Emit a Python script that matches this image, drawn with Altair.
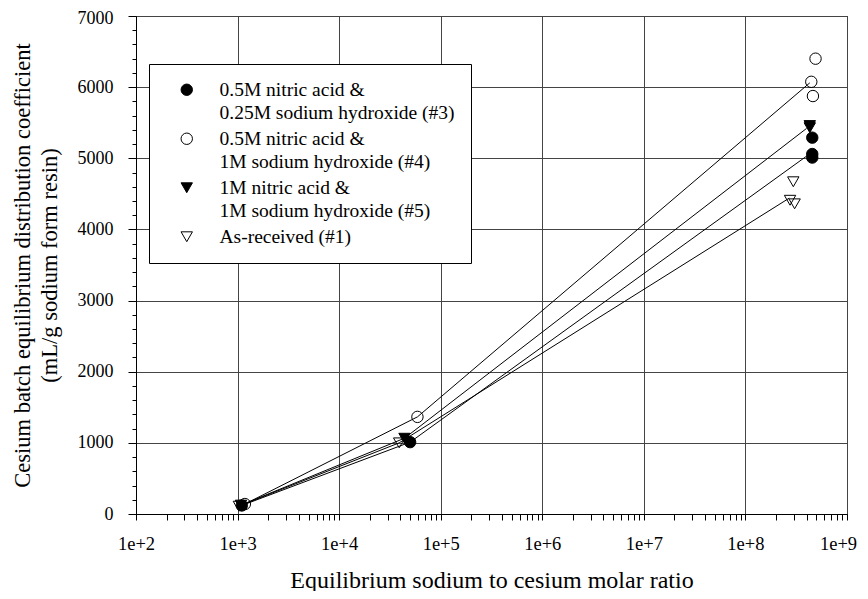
import altair as alt
import pandas as pd

FONT = "Liberation Serif, Times New Roman, DejaVu Serif, serif"

# Series (legend labels, '|' = line break)
SERIES = [
    "0.5M nitric acid &|0.25M sodium hydroxide (#3)",
    "0.5M nitric acid &|1M sodium hydroxide (#4)",
    "1M nitric acid &|1M sodium hydroxide (#5)",
    "As-received (#1)",
]
SHAPES = ["circle", "circle", "triangle-down", "triangle-down"]
FILLS = ["black", "transparent", "black", "transparent"]
STROKES = ["black", "black", "black", "black"]
SIZES = [130, 130, 150, 150]

# measured points (x = Na/Cs molar ratio, y = Kd)
s3_x = [1.1e3, 5.0e4, 4.55e8, 4.55e8, 4.55e8]
s3_y = [120, 1010, 5290, 5060, 5010]
s4_x = [1.18e3, 5.9e4, 4.9e8, 4.45e8, 4.62e8]
s4_y = [140, 1365, 6400, 6075, 5875]
s5_x = [1.08e3, 4.4e4, 4.3e8, 4.3e8]
s5_y = [125, 1065, 5460, 5430]
s1_x = [1.03e3, 3.9e4, 2.96e8, 2.75e8, 3.05e8]
s1_y = [110, 1000, 4670, 4410, 4360]

# connecting lines
l3_x = [1.1e3, 5.0e4, 4.0e8]
l3_y = [120, 1010, 5030]
l4_x = [1.18e3, 5.9e4, 4.3e8]
l4_y = [140, 1365, 6060]
l5_x = [1.08e3, 4.4e4, 4.0e8]
l5_y = [125, 1065, 5420]
l1_x = [1.03e3, 3.9e4, 2.7e8]
l1_y = [110, 1000, 4440]

# axis tick positions
x_ticks = [m * 10 ** e for e in range(2, 9) for m in range(1, 10)] + [1e9]
y_ticks = list(range(0, 7001, 200))

pts = pd.concat([
    pd.DataFrame({"x": xs, "y": ys, "series": s})
    for xs, ys, s in [(s3_x, s3_y, SERIES[0]), (s4_x, s4_y, SERIES[1]),
                      (s5_x, s5_y, SERIES[2]), (s1_x, s1_y, SERIES[3])]
])
lns = pd.concat([
    pd.DataFrame({"x": xs, "y": ys, "series": s})
    for xs, ys, s in [(l3_x, l3_y, SERIES[0]), (l4_x, l4_y, SERIES[1]),
                      (l5_x, l5_y, SERIES[2]), (l1_x, l1_y, SERIES[3])]
])

is_dec = "abs(log(datum.value)/LN10 - round(log(datum.value)/LN10)) < 1e-6"

x_enc = alt.X(
    "x:Q",
    scale=alt.Scale(type="log", domain=[1e2, 1e9], nice=False),
    axis=alt.Axis(
        values=x_ticks,
        labelExpr=f"({is_dec}) ? '1e+' + round(log(datum.value)/LN10) : ''",
        labelOverlap=False, labelFlush=False, labelBound=False,
        labelFontSize=18.5, labelPadding=14, tickSize=6,
        labelOffset={"condition": {"test": "datum.value > 5e8", "value": -9}, "value": 0},
        gridOpacity={"condition": {"test": is_dec, "value": 1}, "value": 0},
        titleFontSize=24, titleY=54, titleBaseline="top",
    ),
    title="Equilibrium sodium to cesium molar ratio",
)
y_enc = alt.Y(
    "y:Q",
    scale=alt.Scale(domain=[0, 7000], nice=False),
    axis=alt.Axis(
        values=y_ticks,
        labelExpr="datum.value % 1000 === 0 ? '' + datum.value : ''",
        labelOverlap=False, labelFontSize=18, labelPadding=15,
        labelOffset={"condition": {"test": "datum.value >= 7000", "value": 2}, "value": 0},
        tickSize={"condition": {"test": "datum.value % 1000 === 0", "value": 8}, "value": 4},
        gridOpacity={"condition": {"test": "datum.value % 1000 === 0", "value": 1}, "value": 0},
        titleFontSize=22.5, titleAngle=270, titleX=-114, titleY=249,
        titleAlign="center", titleBaseline="middle", titleLineHeight=27,
    ),
    title=["Cesium batch equilibrium distribution coefficient",
           "(mL/g sodium form resin)"],
)

legend = alt.Legend(
    title=" ", titleOrient="left", titleFontSize=1, titlePadding=12,
    orient="none", legendX=13, legendY=48, direction="vertical",
    labelExpr="split(datum.label, '|')",
    labelFont=FONT, labelFontSize=19.5, labelColor="black", labelLimit=400,
    labelOffset=23, labelBaseline="middle", rowPadding=5, padding=16,
    strokeColor="black", fillColor="white",
    symbolStrokeWidth=1, symbolOpacity=1,
)

lines = alt.Chart(lns).mark_line(color="black", strokeWidth=1).encode(
    x=x_enc, y=y_enc, detail="series:N"
)
points = alt.Chart(pts).mark_point(
    filled=True, strokeWidth=1, opacity=1
).encode(
    x=x_enc, y=y_enc,
    shape=alt.Shape("series:N", scale=alt.Scale(domain=SERIES, range=SHAPES), legend=legend),
    fill=alt.Fill("series:N", scale=alt.Scale(domain=SERIES, range=FILLS), legend=legend),
    stroke=alt.Stroke("series:N", scale=alt.Scale(domain=SERIES, range=STROKES), legend=legend),
    size=alt.Size("series:N", scale=alt.Scale(domain=SERIES, range=SIZES), legend=legend),
)

chart = alt.layer(lines, points).properties(
    width=711, height=498,
    autosize=alt.AutoSizeParams(type="none"),
    padding={"left": 128, "top": 8, "right": 13, "bottom": 77},
).configure(
    style={"guide-label": {"lineHeight": 23}}
).configure_view(
    stroke="black", strokeWidth=1
).configure_axis(
    domainColor="black", tickColor="black", labelColor="black", titleColor="black",
    labelFont=FONT, titleFont=FONT, titleFontWeight="normal", gridColor="#444",
    domainWidth=1, tickWidth=1, gridWidth=1,
)

chart.save("out.html", embed_options={"renderer": "svg", "actions": False})
